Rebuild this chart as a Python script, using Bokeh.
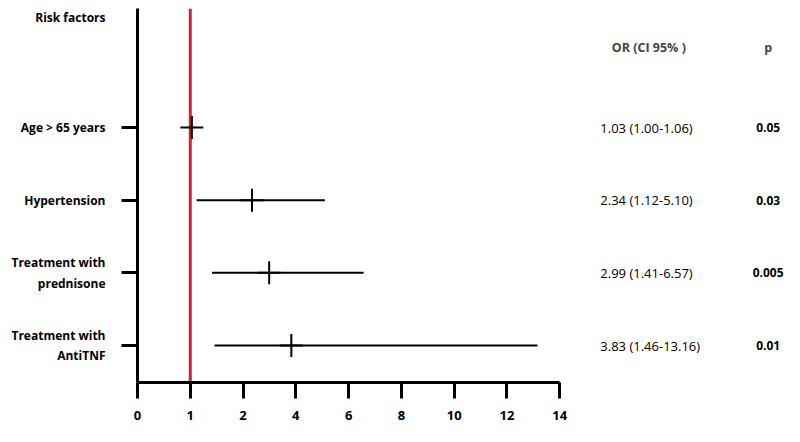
import numpy as np
from bokeh.plotting import figure
from bokeh.models import FixedTicker, Span, Label, ColumnDataSource, Range1d
from bokeh.core.properties import value
from bokeh.embed import file_html
from bokeh.resources import INLINE

# ---- data ----
title_text = "Risk factors"
factors = ["Age > 65 years", "Hypertension", "Treatment with\nprednisone", "Treatment with\nAntiTNF"]
odds_ratio = [1.03, 2.34, 2.99, 3.83]
ci_low = [1.00, 1.12, 1.41, 1.46]
ci_high = [1.06, 5.10, 6.57, 13.16]
or_text = ["1.03 (1.00-1.06)", "2.34  (1.12-5.10)", "2.99 (1.41-6.57)", "3.83  (1.46-13.16)"]
p_text = ["0.05", "0.03", "0.005", "0.01"]
x_tick_values = [0, 1, 2, 4, 6, 8, 10, 12, 14]
reference_or = 1

FONT = "Open Sans"

# axis is drawn with equally spaced ticks 0,1,2,4,...,14 -> piecewise scale
tick_pos = list(range(len(x_tick_values)))
def to_pos(v):
    return np.interp(v, x_tick_values, tick_pos)

n = len(factors)
row = [n - 1 - i for i in range(n)]
title_row = n - 1 + 1.514
header_row = n - 1 + 1.10

src = ColumnDataSource(dict(
    y=row,
    est=to_pos(odds_ratio),
    lo=to_pos(ci_low),
    hi=to_pos(ci_high),
    or_text=or_text,
    p_text=p_text,
))

p = figure(width=784, height=426, output_backend="svg", toolbar_location=None,
           x_range=Range1d(0, 12.26), y_range=Range1d(-0.509, 4.638),
           min_border_left=137, min_border_right=0, min_border_top=8, min_border_bottom=44)
p.outline_line_color = None
p.xgrid.visible = False
p.ygrid.visible = False

# reference line at OR = 1
p.add_layout(Span(location=float(to_pos(reference_or)), dimension="height",
                  line_color="#C8243C", line_width=3, level="underlay"))

# CI lines and point estimates
p.segment(x0="lo", y0="y", x1="hi", y1="y", source=src, line_color="black", line_width=2)
p.scatter(x="est", y="y", source=src, marker="cross", size=23,
          line_color="black", line_width=2)

# x axis
p.xaxis.ticker = FixedTicker(ticks=tick_pos)
p.xaxis.major_label_overrides = {i: str(v) for i, v in zip(tick_pos, x_tick_values)}
p.xaxis.bounds = (0, tick_pos[-1])
p.xaxis.axis_line_width = 3
p.xaxis.major_tick_line_width = 3
p.xaxis.major_tick_out = 16
p.xaxis.major_tick_in = 0
p.xaxis.minor_tick_line_color = None
p.xaxis.major_label_standoff = 12
p.xaxis.major_label_text_font = FONT
p.xaxis.major_label_text_font_style = "bold"
p.xaxis.major_label_text_font_size = "13px"
p.xaxis.major_label_text_color = "black"

# y axis: labels on (invisible) major ticks, visible tick marks drawn as minor ticks at the rows
p.yaxis.ticker = FixedTicker(ticks=row + [title_row], minor_ticks=row)
labels = {r: f for r, f in zip(row, factors)}
labels[title_row] = title_text
p.yaxis.major_label_overrides = labels
p.yaxis.axis_line_width = 3
p.yaxis.major_tick_line_color = None
p.yaxis.major_tick_out = 16
p.yaxis.major_tick_in = 0
p.yaxis.minor_tick_line_color = "black"
p.yaxis.minor_tick_line_width = 3
p.yaxis.minor_tick_out = 16
p.yaxis.minor_tick_in = 0
p.yaxis.major_label_standoff = 16
p.yaxis.major_label_text_font = FONT
p.yaxis.major_label_text_font_style = "bold"
p.yaxis.major_label_text_font_size = "12px"
p.yaxis.major_label_text_color = "black"

# table columns
p.text(x=8.77, y="y", text="or_text", source=src, text_font=value(FONT),
       text_font_size="13px", text_align="left", text_baseline="middle", text_color="black")
p.text(x=11.95, y="y", text="p_text", source=src, text_font=value(FONT), text_font_style="bold",
       text_font_size="12px", text_align="center", text_baseline="middle", text_color="black")
p.add_layout(Label(x=9.72, y=header_row, text="OR  (CI 95% )", text_font=FONT, text_font_style="bold",
                   text_font_size="12.5px", text_align="center", text_baseline="middle"))
p.add_layout(Label(x=11.95, y=header_row, text="p", text_font=FONT, text_font_style="bold",
                   text_font_size="12.5px", text_align="center", text_baseline="middle"))

open("out.html", "w").write(file_html(p, INLINE))
